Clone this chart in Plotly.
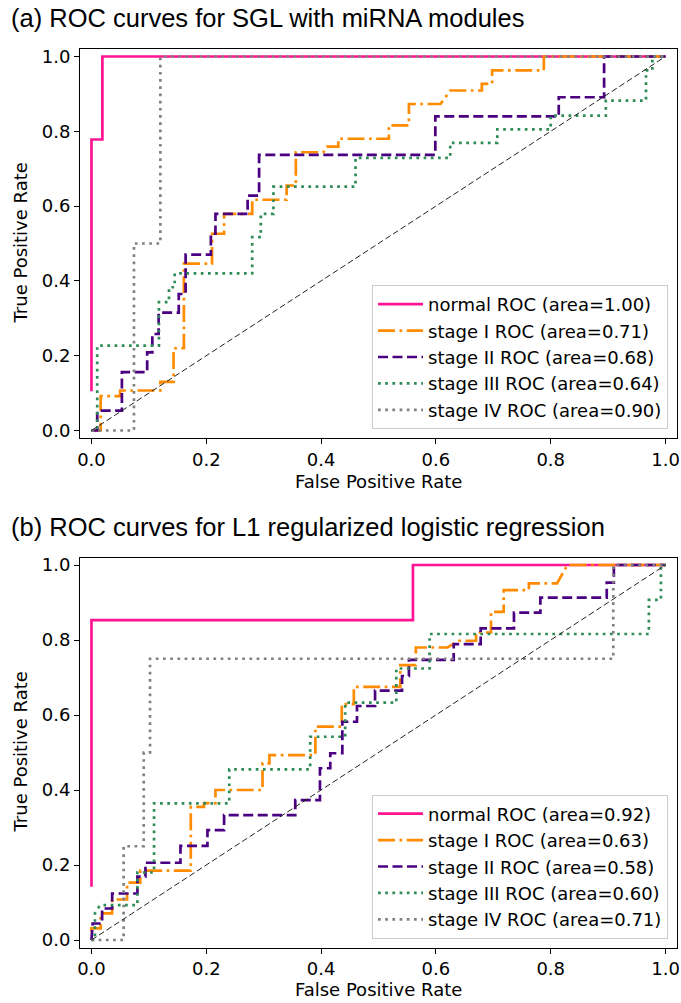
import plotly.graph_objects as go

W, H = 681, 1003

# ---------------- data: panel (a) SGL with miRNA modules ----------------
a_labels = ["normal ROC (area=1.00)", "stage I ROC (area=0.71)", "stage II ROC (area=0.68)",
            "stage III ROC (area=0.64)", "stage IV ROC (area=0.90)"]
a_normal_fpr = [0, 0, 0.019, 0.019, 1]
a_normal_tpr = [0.105, 0.778, 0.778, 1, 1]
a_s1_fpr = [0, 0.016, 0.016, 0.05, 0.05, 0.12, 0.12, 0.143, 0.143, 0.161, 0.161, 0.21, 0.21, 0.231, 0.231,
            0.28, 0.28, 0.34, 0.34, 0.356, 0.356, 0.404, 0.41, 0.43, 0.43, 0.518, 0.518, 0.553, 0.553,
            0.608, 0.625, 0.68, 0.68, 0.698, 0.698, 0.788, 0.788, 1]
a_s1_tpr = [0, 0, 0.092, 0.092, 0.107, 0.107, 0.13, 0.13, 0.22, 0.22, 0.446, 0.446, 0.526, 0.526, 0.579,
            0.579, 0.617, 0.617, 0.655, 0.655, 0.744, 0.744, 0.759, 0.759, 0.78, 0.78, 0.816, 0.816, 0.873,
            0.873, 0.909, 0.909, 0.927, 0.927, 0.963, 0.963, 1, 1]
a_s2_fpr = [0, 0.01, 0.01, 0.053, 0.053, 0.097, 0.097, 0.106, 0.106, 0.117, 0.117, 0.152, 0.152, 0.164,
            0.164, 0.208, 0.208, 0.216, 0.216, 0.272, 0.272, 0.292, 0.292, 0.599, 0.599, 0.814, 0.814,
            0.893, 0.893, 1]
a_s2_tpr = [0, 0, 0.053, 0.053, 0.156, 0.156, 0.209, 0.209, 0.258, 0.258, 0.315, 0.315, 0.365, 0.365,
            0.47, 0.47, 0.526, 0.526, 0.579, 0.579, 0.628, 0.628, 0.737, 0.737, 0.84, 0.84, 0.891, 0.891,
            1, 1]
a_s3_fpr = [0, 0.01, 0.01, 0.1175, 0.1175, 0.135, 0.135, 0.145, 0.145, 0.28, 0.28, 0.295, 0.295, 0.317,
            0.317, 0.46, 0.46, 0.625, 0.625, 0.707, 0.707, 0.80, 0.80, 0.896, 0.896, 0.966, 0.966, 0.977,
            0.977, 1]
a_s3_tpr = [0, 0, 0.227, 0.227, 0.343, 0.343, 0.383, 0.383, 0.42, 0.42, 0.517, 0.517, 0.579, 0.579,
            0.652, 0.652, 0.729, 0.729, 0.769, 0.769, 0.805, 0.805, 0.842, 0.842, 0.882, 0.882, 0.963,
            0.963, 1, 1]
a_s4_fpr = [0, 0.074, 0.074, 0.12, 0.12, 1]
a_s4_tpr = [0, 0, 0.5, 0.5, 1, 1]

# ---------------- data: panel (b) L1 regularized logistic regression ----------------
b_labels = ["normal ROC (area=0.92)", "stage I ROC (area=0.63)", "stage II ROC (area=0.58)",
            "stage III ROC (area=0.60)", "stage IV ROC (area=0.71)"]
b_normal_fpr = [0, 0, 0.56, 0.56, 1]
b_normal_tpr = [0.142, 0.853, 0.853, 1, 1]
b_s1_fpr = [0, 0, 0.016, 0.016, 0.036, 0.036, 0.062, 0.062, 0.085, 0.085, 0.173, 0.173, 0.196, 0.196,
            0.216, 0.216, 0.298, 0.298, 0.31, 0.31, 0.39, 0.39, 0.436, 0.436, 0.457, 0.457, 0.538, 0.538,
            0.565, 0.565, 0.62, 0.64, 0.67, 0.67, 0.696, 0.696, 0.718, 0.718, 0.762, 0.762, 0.811, 0.829, 1]
b_s1_tpr = [0.022, 0.031, 0.031, 0.071, 0.071, 0.108, 0.108, 0.153, 0.153, 0.185, 0.185, 0.355, 0.355,
            0.365, 0.365, 0.40, 0.40, 0.471, 0.471, 0.493, 0.493, 0.569, 0.569, 0.629, 0.629, 0.675, 0.675,
            0.733, 0.733, 0.78, 0.78, 0.798, 0.798, 0.82, 0.82, 0.875, 0.875, 0.933, 0.933, 0.951, 0.951,
            1, 1]
b_s2_fpr = [0, 0.002, 0.0185, 0.0185, 0.036, 0.036, 0.08, 0.08, 0.094, 0.094, 0.155, 0.155, 0.202, 0.202,
            0.231, 0.231, 0.355, 0.355, 0.398, 0.398, 0.416, 0.416, 0.437, 0.437, 0.4625, 0.4625, 0.494,
            0.494, 0.541, 0.541, 0.553, 0.553, 0.631, 0.631, 0.678, 0.678, 0.736, 0.736, 0.782, 0.782,
            0.8976, 0.8976, 0.91, 0.91, 1]
b_s2_tpr = [0, 0.044, 0.044, 0.084, 0.084, 0.124, 0.124, 0.169, 0.169, 0.206, 0.206, 0.251, 0.251, 0.293,
            0.293, 0.333, 0.333, 0.373, 0.373, 0.458, 0.458, 0.498, 0.498, 0.582, 0.582, 0.624, 0.624,
            0.665, 0.665, 0.704, 0.704, 0.747, 0.747, 0.789, 0.789, 0.831, 0.831, 0.873, 0.873, 0.913,
            0.913, 0.953, 0.953, 1, 1]
b_s3_fpr = [0, 0.006, 0.006, 0.015, 0.08, 0.08, 0.109, 0.109, 0.24, 0.24, 0.381, 0.381, 0.442, 0.442,
            0.531, 0.531, 0.589, 0.589, 0.971, 0.971, 0.992, 0.992, 1]
b_s3_tpr = [0, 0, 0.071, 0.093, 0.093, 0.18, 0.18, 0.3645, 0.3645, 0.455, 0.455, 0.542, 0.542, 0.633,
            0.633, 0.724, 0.724, 0.816, 0.816, 0.907, 0.907, 1, 1]
b_s4_fpr = [0, 0.056, 0.056, 0.091, 0.091, 0.102, 0.102, 0.909, 0.909, 1]
b_s4_tpr = [0, 0, 0.25, 0.25, 0.5, 0.5, 0.75, 0.75, 1, 1]

diag = [0, 1]
tick_vals = [0.0, 0.2, 0.4, 0.6, 0.8, 1.0]
tick_text = ["0.0", "0.2", "0.4", "0.6", "0.8", "1.0"]

colors = ["#FF1493", "#FF8C00", "#4B0082", "#2E8B57", "#808080"]
LW = 2.7
dashes = ["solid", "17px,4.5px,2.7px,4.5px", "10px,4.5px", "2.7px,4.5px", "2.7px,4.5px"]

fig = go.Figure()

panels = [
    ("x", "y", "legend", a_labels,
     [(a_normal_fpr, a_normal_tpr), (a_s1_fpr, a_s1_tpr), (a_s2_fpr, a_s2_tpr),
      (a_s3_fpr, a_s3_tpr), (a_s4_fpr, a_s4_tpr)]),
    ("x2", "y2", "legend2", b_labels,
     [(b_normal_fpr, b_normal_tpr), (b_s1_fpr, b_s1_tpr), (b_s2_fpr, b_s2_tpr),
      (b_s3_fpr, b_s3_tpr), (b_s4_fpr, b_s4_tpr)]),
]

for xa, ya, lg, labels, curves in panels:
    for i, ((fx, ty), lab) in enumerate(zip(curves, labels)):
        fig.add_trace(go.Scatter(
            x=fx, y=ty, mode="lines", name=lab, xaxis=xa, yaxis=ya, legend=lg,
            legendgroup=lg + str(i),
            line=dict(color=colors[i], width=LW, dash=dashes[i]),
        ))
    fig.add_trace(go.Scatter(
        x=diag, y=diag, mode="lines", xaxis=xa, yaxis=ya, showlegend=False,
        line=dict(color="#222222", width=1, dash="6px,3px"), hoverinfo="skip",
    ))

def px2x(p):
    return p / W

def px2y(p):
    return 1 - p / H

top_frame = (49, 438)
bot_frame = (557.5, 947.5)
xdom = [px2x(80), px2x(677)]

tickfont = dict(family="DejaVu Sans", size=18, color="black")
axis_common = dict(range=[-0.02, 1.02], showline=True, linecolor="black", linewidth=1, mirror=True,
                   ticks="outside", ticklen=5, tickwidth=1, tickcolor="black",
                   tickvals=tick_vals, ticktext=tick_text, tickfont=tickfont,
                   showgrid=False, zeroline=False, automargin=False)

legend_common = dict(xanchor="right", yanchor="bottom",
                     bgcolor="rgba(255,255,255,0.8)", bordercolor="#cccccc", borderwidth=1,
                     font=dict(family="DejaVu Sans", size=18, color="black"),
                     tracegroupgap=0, itemwidth=45)

fig.update_layout(
    width=W, height=H,
    margin=dict(l=0, r=0, t=0, b=0, autoexpand=False),
    paper_bgcolor="white", plot_bgcolor="white",
    xaxis=dict(domain=xdom, anchor="y", **axis_common),
    yaxis=dict(domain=[px2y(top_frame[1]), px2y(top_frame[0])], anchor="x", **axis_common),
    xaxis2=dict(domain=xdom, anchor="y2", **axis_common),
    yaxis2=dict(domain=[px2y(bot_frame[1]), px2y(bot_frame[0])], anchor="x2", **axis_common),
    legend=dict(x=px2x(668), y=px2y(429), **legend_common),
    legend2=dict(x=px2x(668), y=px2y(938.5), **legend_common),
    showlegend=True,
)

title_font = dict(family="Liberation Sans", size=25.5, color="black")
label_font = dict(family="DejaVu Sans", size=18, color="black")
annos = [
    dict(text="(a) ROC curves for SGL with miRNA modules", x=px2x(9), y=px2y(18),
         xanchor="left", yanchor="middle", font=title_font),
    dict(text="(b) ROC curves for L1 regularized logistic regression", x=px2x(9), y=px2y(527),
         xanchor="left", yanchor="middle", font=title_font),
    dict(text="False Positive Rate", x=px2x(378.5), y=px2y(481), xanchor="center", yanchor="middle",
         font=label_font),
    dict(text="False Positive Rate", x=px2x(378.5), y=px2y(989), xanchor="center", yanchor="middle",
         font=label_font),
    dict(text="True Positive Rate", x=px2x(20), y=px2y(243.5), xanchor="center", yanchor="middle",
         textangle=-90, font=label_font),
    dict(text="True Positive Rate", x=px2x(20), y=px2y(752.5), xanchor="center", yanchor="middle",
         textangle=-90, font=label_font),
]
for a in annos:
    fig.add_annotation(xref="paper", yref="paper", showarrow=False, **a)

fig.write_html("out.html", config={"displayModeBar": False},
               post_script="document.body.style.margin='0';document.body.style.overflow='hidden';")
